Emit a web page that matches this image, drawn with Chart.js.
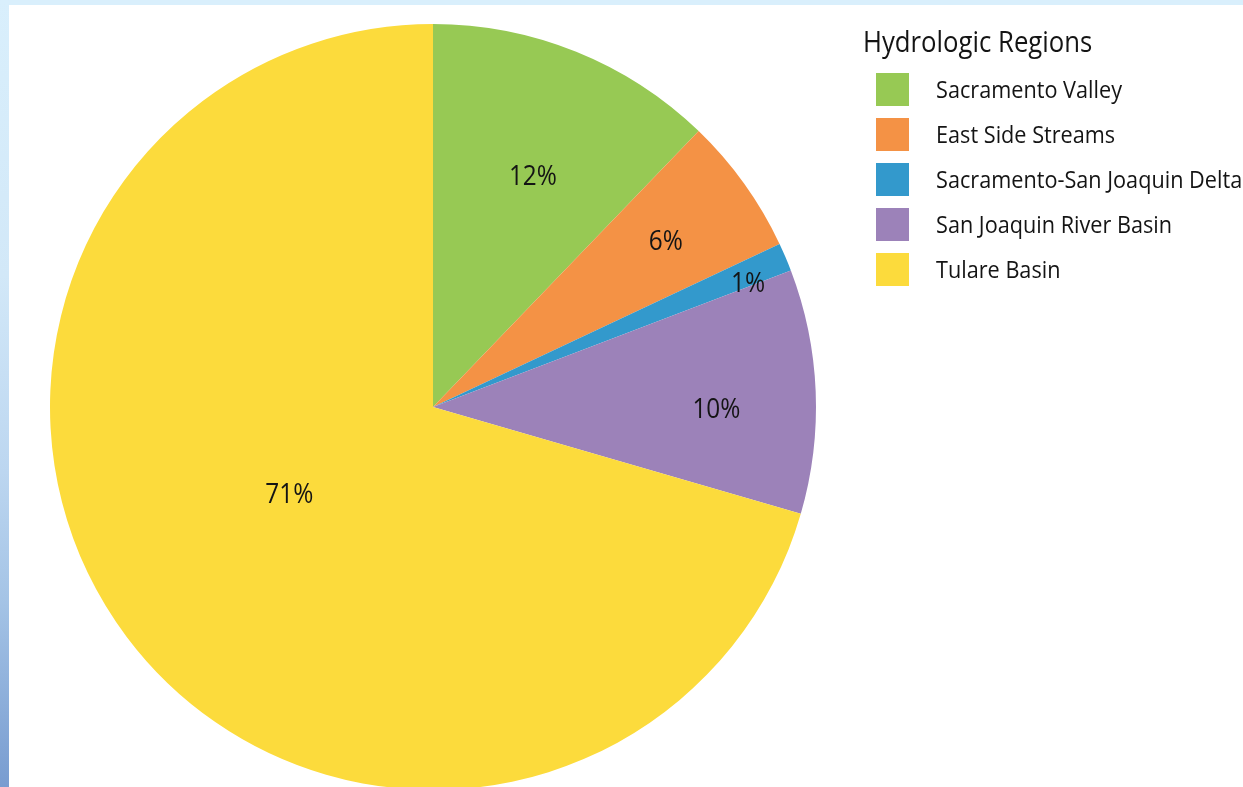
<!DOCTYPE html>
<html>
<head>
<meta charset="utf-8">
<script src="https://cdn.jsdelivr.net/npm/chart.js@4"></script>
<style>
    html, body { margin: 0; padding: 0; width: 1243px; height: 787px; overflow: hidden; background: #ffffff; }
    .frame-top { position: absolute; left: 0; top: 0; width: 1243px; height: 5px; background: #d9effc; }
    .frame-left { position: absolute; left: 0; top: 0; width: 9px; height: 787px;
        background: linear-gradient(to bottom, #d9effc 0%, #d2e8f8 35%, #bcd6f0 60%, #a5c4e6 76%, #789cd0 100%); }
    #wrap { position: absolute; left: 0; top: 0; width: 1243px; height: 800px; }
</style>
</head>
<body>
<div class="frame-top"></div>
<div class="frame-left"></div>
<div id="wrap"><canvas id="chart"></canvas></div>
<script>
const regions = ["Sacramento Valley", "East Side Streams", "Sacramento-San Joaquin Delta", "San Joaquin River Basin", "Tulare Basin"];
const shares = [12.2, 5.8, 1.2, 10.3, 70.5];
const shareLabels = ["12%", "6%", "1%", "10%", "71%"];
const legendTitle = "Hydrologic Regions";

const colors = ["#97c954", "#f49245", "#3399cc", "#9c82b9", "#fcdb3c"];
// label placement: angle offset from slice middle (deg), fraction of radius
const labelAngleShift = [1.4, 0, 1.4, 2.7, 6];
const labelRadius = [0.658, 0.748, 0.885, 0.74, 0.437];

const FONT = '"Open Sans", "Noto Sans", sans-serif';
const CAP = 0.714; // cap height of Open Sans, in em
const INK = "#141414";

function squeezedText(ctx, text, x, y, squeeze) {
    ctx.save();
    ctx.translate(x, y);
    ctx.scale(squeeze, 1);
    ctx.fillText(text, 0, 0);
    ctx.restore();
}

function getSqueeze(ctx) {
    ctx.font = "24px " + FONT;
    return 186 / ctx.measureText("Sacramento Valley").width;
}

const labelsPlugin = {
    id: "sliceLabels",
    afterDatasetsDraw(chart) {
        const ctx = chart.ctx;
        ctx.save();
        const squeeze = getSqueeze(ctx);
        const size = 27;
        ctx.font = "500 " + size + "px " + FONT;
        ctx.fillStyle = INK;
        ctx.textBaseline = "alphabetic";
        ctx.textAlign = "center";
        chart.getDatasetMeta(0).data.forEach((arc, i) => {
            const mid = (arc.startAngle + arc.endAngle) / 2 + labelAngleShift[i] * Math.PI / 180;
            const r = arc.outerRadius * labelRadius[i];
            const x = arc.x + Math.cos(mid) * r;
            const y = arc.y + Math.sin(mid) * r + size * CAP / 2;
            squeezedText(ctx, shareLabels[i], x, y, squeeze);
        });
        ctx.restore();
    }
};

const legendPlugin = {
    id: "sideLegend",
    afterDraw(chart) {
        const ctx = chart.ctx;
        ctx.save();
        const squeeze = getSqueeze(ctx);
        ctx.fillStyle = INK;
        ctx.textAlign = "left";
        ctx.textBaseline = "alphabetic";
        ctx.font = "500 28.5px " + FONT;
        squeezedText(ctx, legendTitle, 863, 52, squeeze);
        ctx.font = "500 24px " + FONT;
        regions.forEach((name, i) => {
            const top = 73 + i * 45;
            ctx.fillStyle = colors[i];
            ctx.fillRect(876, top, 33, 33);
            ctx.fillStyle = INK;
            squeezedText(ctx, name, 936, top + 16.5 + 24 * CAP / 2, squeeze);
        });
        ctx.restore();
    }
};

new Chart(document.getElementById("chart"), {
    type: "pie",
    data: {
        labels: regions,
        datasets: [{
            data: shares,
            backgroundColor: colors,
            borderWidth: 0
        }]
    },
    options: {
        responsive: true,
        maintainAspectRatio: false,
        animation: false,
        layout: { padding: { left: 50, top: 24, right: 427, bottom: 10 } },
        plugins: {
            legend: { display: false },
            tooltip: { enabled: false }
        }
    },
    plugins: [labelsPlugin, legendPlugin]
});
</script>
</body>
</html>
